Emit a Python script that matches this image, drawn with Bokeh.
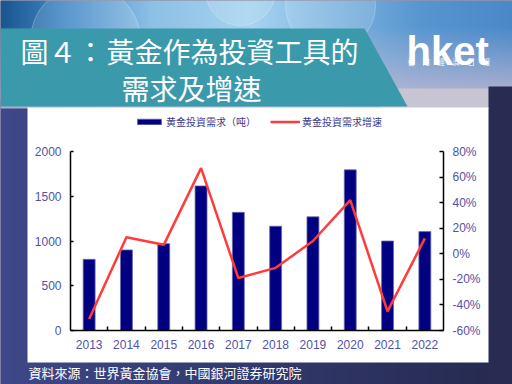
import numpy as np
from bokeh.plotting import figure
from bokeh.models import Range1d, LinearAxis, FixedTicker, Legend, LegendItem, Label
from bokeh.embed import file_html
from bokeh.resources import INLINE

# ---------------- data ----------------
years = ["2013", "2014", "2015", "2016", "2017", "2018", "2019", "2020", "2021", "2022"]
demand = [795, 900, 970, 1615, 1320, 1165, 1270, 1795, 1000, 1105]      # 噸
growth = [-51, 13, 7, 67, -19, -11, 10, 42, -45, 12]                     # %
vol_ticks = [0, 500, 1000, 1500, 2000]
pct_ticks = [-60, -40, -20, 0, 20, 40, 60, 80]
pct_labels = ["-60%", "-40%", "-20%", "0%", "20%", "40%", "60%", "80%"]
legend_labels = ["黄金投資需求（吨）", "黄金投資需求增速"]
title_1a = "圖４："
title_1b = "黃金作為投資工具的"
title_2 = "需求及增速"
source_text = "資料來源：世界黃金協會，中國銀河證券研究院"
brand = "hket"
brand_sub = "香　港　經　濟　日　報"

# ---------------- layout (page pixels) ----------------
W, H = 512, 384
FX0, FX1, FY0, FY1 = 0, 512, 0, 384      # visible frame in page pixels


def Y(y):
    return H - y


PX0, PX1, PY_TOP, PY_BOT = 70, 443, 151, 330
n = len(years)
idx = list(range(n))
cw = (PX1 - PX0) / n
vpp = (vol_ticks[-1] - vol_ticks[0]) / (PY_BOT - PY_TOP)
ppp = (pct_ticks[-1] - pct_ticks[0]) / (PY_BOT - PY_TOP)

p = figure(width=FX1 - FX0, height=FY1 - FY0,
           x_range=Range1d(FX0, FX1), y_range=Range1d(Y(FY1), Y(FY0)),
           x_axis_type=None, y_axis_type=None,
           toolbar_location=None, output_backend="svg",
           min_border=0, min_border_left=0, min_border_right=0,
           min_border_top=0, min_border_bottom=0,
           outline_line_color=None,
           background_fill_color="#2a2e58", border_fill_color="#2a2e58")
p.grid.visible = False

p.extra_x_ranges = {"cat": Range1d(-0.5 - (PX0 - FX0) / cw, n - 0.5 + (FX1 - PX1) / cw)}
p.extra_y_ranges = {
    "vol": Range1d((Y(FY1) - Y(PY_BOT)) * vpp, (Y(FY0) - Y(PY_BOT)) * vpp),
    "pct": Range1d(pct_ticks[0] + (Y(FY1) - Y(PY_BOT)) * ppp, pct_ticks[0] + (Y(FY0) - Y(PY_BOT)) * ppp),
}


def hexrgb(h):
    h = h.lstrip("#")
    return np.array([int(h[i:i + 2], 16) for i in (0, 2, 4)], dtype=float)


def to_rgba(arr):
    a = np.clip(arr, 0, 255).astype(np.uint32)
    img = (255 << 24) | (a[..., 2] << 16) | (a[..., 1] << 8) | a[..., 0]
    return img.astype(np.uint32)


# lower background: horizontal navy gradient
xs = np.linspace(0, 1, 128)
c0, c1 = hexrgb("#3f4888"), hexrgb("#262a4f")
row = c0[None, :] * (1 - xs[:, None]) + c1[None, :] * xs[:, None]
low = np.repeat(row[None, :, :], 2, axis=0)
p.image_rgba(image=[to_rgba(low)], x=0, y=Y(H), dw=W, dh=H - 100)

# top photo band: blue gradient fading to lavender
stops_x = [0, 60, 150, 250, 330, 420, 512]
stops_c = ["#1a5690", "#3f86c4", "#8cc0e6", "#a8d4f0", "#7fb6e0", "#5896d0", "#4a88c8"]
gx = np.arange(W)
top_row = np.stack([np.interp(gx, stops_x, [hexrgb(c)[k] for c in stops_c]) for k in range(3)], axis=-1)
lav = hexrgb("#bcb9d3")
rows = []
for yy in range(108):
    t = min(1.0, max(0.0, (yy - 25) / 70.0)) * 0.9
    rows.append(top_row * (1 - t) + lav[None, :] * t)
band = np.array(rows[::-1])
p.image_rgba(image=[to_rgba(band)], x=0, y=Y(108), dw=W, dh=108)

# soft bubbles
p.scatter(x=[85, 240, 330], y=[Y(40), Y(-10), Y(5)], size=[110, 70, 90],
          fill_color="white", fill_alpha=0.13, line_color="white", line_alpha=0.25)

# grey strip and right navy column
p.quad(left=[380], right=[488], top=[Y(88)], bottom=[Y(108)], fill_color="#c8c5d2", line_color=None)
p.quad(left=[488], right=[W], top=[Y(86)], bottom=[Y(H)], fill_color="#282c53", line_color=None)

# teal title banner
p.patch(x=[0, 364, 407, 0], y=[Y(28), Y(28), Y(106), Y(106)], fill_color="#3a99aa", line_color=None)

# white chart panel
p.quad(left=[27], right=[488], top=[Y(107)], bottom=[Y(362)], fill_color="white", line_color=None)

# ---------------- chart ----------------
bars = p.vbar(x=idx, top=demand, width=0.32, x_range_name="cat", y_range_name="vol",
              fill_color="#000080", line_color="#6a6aae", line_width=0.8)
line = p.line(x=idx, y=growth, x_range_name="cat", y_range_name="pct",
              line_color="#ff3b3b", line_width=2.5)

lab_color = "#5252a6"
ax_y = LinearAxis(y_range_name="vol", fixed_location=PX0, bounds=(vol_ticks[0], vol_ticks[-1]),
                  ticker=FixedTicker(ticks=vol_ticks, minor_ticks=[]))
ax_y.major_tick_in = 3
ax_y.major_tick_out = 0
ax_y.minor_tick_in = 0
ax_y.minor_tick_out = 0
ax_y.major_label_standoff = 9
ax_y.axis_line_width = 1.5
ax_y.major_tick_line_width = 1.5
p.add_layout(ax_y, "left")

ax_r = LinearAxis(y_range_name="pct", fixed_location=PX1, bounds=(pct_ticks[0], pct_ticks[-1]),
                  ticker=FixedTicker(ticks=pct_ticks, minor_ticks=[]),
                  major_label_overrides={t: l for t, l in zip(pct_ticks, pct_labels)})
ax_r.major_tick_in = 4
ax_r.major_tick_out = 0
ax_r.minor_tick_in = 0
ax_r.minor_tick_out = 0
ax_r.major_label_standoff = 9
ax_r.axis_line_width = 1.5
ax_r.major_tick_line_width = 1.5
p.add_layout(ax_r, "right")

ax_x = LinearAxis(x_range_name="cat", fixed_location=Y(PY_BOT), bounds=(-0.5, n - 0.5),
                  ticker=FixedTicker(ticks=idx, minor_ticks=[i + 0.5 for i in idx[:-1]]),
                  major_label_overrides={i: y for i, y in zip(idx, years)})
ax_x.major_tick_in = 0
ax_x.major_tick_out = 0
ax_x.minor_tick_in = 4
ax_x.minor_tick_out = 0
ax_x.major_label_standoff = 9
ax_x.axis_line_width = 1.5
ax_x.minor_tick_line_width = 1.5
p.add_layout(ax_x, "below")

for ax in (ax_y, ax_r, ax_x):
    ax.axis_line_color = "black"
    ax.major_tick_line_color = "black"
    ax.minor_tick_line_color = "black"
    ax.major_label_text_color = lab_color
    ax.major_label_text_font = "Liberation Sans"
    ax.major_label_text_font_size = "12px"

legend = Legend(items=[LegendItem(label=legend_labels[0], renderers=[bars]),
                       LegendItem(label=legend_labels[1], renderers=[line])],
                orientation="horizontal", location=(134, Y(129)),
                padding=0, margin=0, spacing=14, glyph_width=30, glyph_height=7,
                label_height=7, label_standoff=2,
                label_text_font="Noto Sans CJK SC", label_text_font_size="10px",
                label_text_color="#3a3a8c",
                border_line_color=None, background_fill_alpha=0)
p.add_layout(legend)

# ---------------- texts ----------------
title_kw = dict(text_color="white", text_font="Noto Sans CJK TC", text_font_size="28px",
                text_baseline="middle")
p.add_layout(Label(x=20, y=Y(50), text=title_1a, **title_kw))
p.add_layout(Label(x=106, y=Y(50), text=title_1b, **title_kw))
p.add_layout(Label(x=121, y=Y(87), text=title_2, **title_kw))
p.add_layout(Label(x=406, y=Y(50), text=brand, text_color="white", text_font="Liberation Sans",
                   text_font_style="bold", text_font_size="40px", text_baseline="alphabetic"))
p.add_layout(Label(x=407, y=Y(61), text=brand_sub, text_color="white", text_font="Noto Sans CJK TC",
                   text_font_size="7.5px", text_baseline="middle"))
p.add_layout(Label(x=28, y=Y(372), text=source_text, text_color="white", text_font="Noto Sans CJK TC",
                   text_font_size="13px", text_baseline="middle"))

open("out.html", "w").write(file_html(p, INLINE))
